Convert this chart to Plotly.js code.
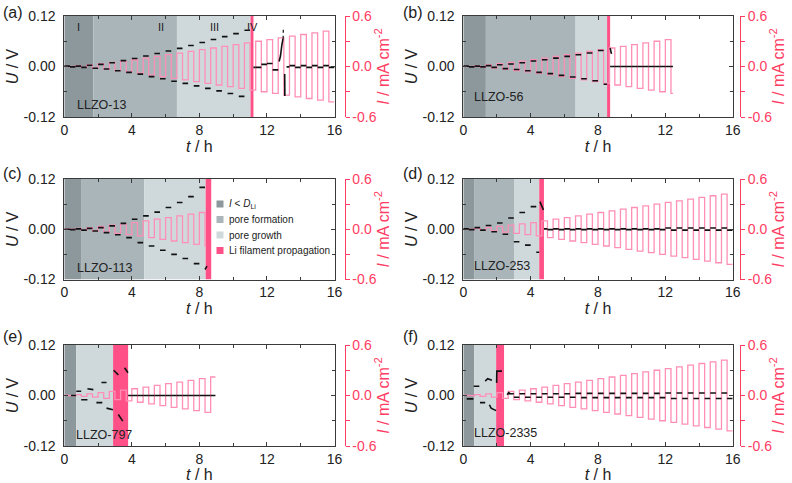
<!DOCTYPE html>
<html><head><meta charset="utf-8">
<script src="https://cdn.plot.ly/plotly-3.0.1.min.js"></script>
<style>html,body{margin:0;padding:0;background:#fff}#chart{width:792px;height:483px}</style>
</head><body><div id="chart"></div>
<script>
// ---------------- data ----------------
const sampleNames = ['LLZO-13','LLZO-56','LLZO-113','LLZO-253','LLZO-797','LLZO-2335'];
const panelLetters = ['(a)','(b)','(c)','(d)','(e)','(f)'];
const sampleLabelT = [0.63, 0.5, 0.63, 0.5, 0.55, 0.5];
const sampleLabelU = [-0.092, -0.072, -0.092, -0.088, -0.093, -0.089];
const halfCycleHours = 1/3;
// current density amplitude of each cycle (mA cm-2)
const currentAmp = [0.003,0.01,0.02,0.035,0.05,0.065,0.08,0.1,0.12,0.14,0.16,0.18,
                    0.2,0.22,0.24,0.26,0.28,0.3,0.32,0.34,0.36,0.38,0.4,0.42];
const currentEnd = [16, 12.45, 8.4, 16, 8.95, 16];
// phase boundaries (h)
const phaseIEnd   = [1.72, 1.34, 1.03, 0.64, 0.71, 0.64];
const phaseIIEnd  = [6.67, 6.67, 4.73, 3.01, 0.71, 0.64];
const phaseIIIEnd = [11.03, 8.54, 8.37, 4.51, 2.89, 1.95];
const filamentEnd = [11.2, 8.72, 8.7, 4.79, 3.78, 2.42];
// voltage of each half cycle (V)
const uA = [0.001,-0.001,0.001,-0.002,0.003,-0.004,0.005,-0.006,0.009,-0.010,
            0.014,-0.014,0.019,-0.018,0.025,-0.024,0.031,-0.029,0.037,-0.035,
            0.043,-0.040,0.050,-0.046,0.057,-0.052,0.064,-0.058,0.071,-0.064,
            0.078,-0.071,0.086,null,-0.002,0.005,0.007,-0.008,null,null,
            0.002,-0.002,0.002,-0.002,0.002,-0.002,0.002,-0.002];
const uB = [0.001,-0.001,0.001,-0.001,0.002,-0.002,0.004,-0.005,0.006,-0.007,
            0.009,-0.010,0.013,-0.014,0.016,-0.017,0.020,-0.021,0.024,-0.025,
            0.028,-0.029,0.032,-0.034,0.038,-0.042,0,0,0,0,
            0,0,0,0,0,0,0,0];
const uC = [0.000,-0.001,0.001,-0.002,0.002,-0.004,0.004,-0.008,0.008,-0.013,
            0.014,-0.020,0.024,-0.032,0.032,-0.040,0.041,-0.050,0.052,-0.060,
            0.064,-0.070,0.078,-0.082,0.100,-0.095];
const uD = [0.001,-0.001,0.004,-0.002,0.009,-0.006,0.015,-0.012,0.027,-0.030,
            0.040,-0.038,0.054,-0.055,0.001,-0.001,0.001,-0.001,0.001,-0.001,
            0.001,-0.001,0.001,-0.001,0.001,-0.001,0.001,-0.001,0.001,-0.001,
            0.001,-0.001,0.001,-0.001,0.001,-0.001,0.003,-0.002,0.003,-0.002,
            0.003,-0.002,0.003,-0.002,0.003,-0.002,0.003,-0.002];
const uE = [null,null,null,null,null,null,null,null,null,null,null,
            0,0,0,0,0,0,0,0,0,0,0,0,0,0,0,0];
const uF = [null,null,null,null,null,null,null,null,
            0.004,-0.004,0.004,-0.004,0.004,-0.004,0.004,-0.004,0.004,-0.004,0.004,-0.004,
            0.005,-0.005,0.005,-0.005,0.005,-0.005,0.005,-0.005,0.005,-0.005,
            0.005,-0.005,0.005,-0.005,0.005,-0.005,
            0.006,-0.007,0.006,-0.007,0.006,-0.007,0.006,-0.007,0.006,-0.007,0.006,-0.007];
// irregular voltage features (t in h, U in V)
const exAt = [11.2,11.33,null,12.72,12.8,12.88,12.95,null,13.05,13.06,null,13.16,13.33];
const exAu = [-0.002,-0.002,null,0.012,0.025,0.05,0.066,null,-0.018,-0.07,null,-0.001,-0.001];
const dotAt = [12.96,12.97];
const dotAu = [0.066,0.092];
const exBt = [8.72,8.8];
const exBu = [0.044,0.03];
const exCt = [8.33,8.45];
const exCu = [-0.096,-0.088];
const exDt = [4.55,4.62,4.7,4.76];
const exDu = [0.066,0.06,0.052,0.046];
const exEt = [0.4,0.7,null,0.71,1.0,null,1.0,1.37,null,1.37,1.72,null,1.9,2.25,null,2.2,2.5,null,2.5,2.88,null,
              2.92,3.05,3.2,null,3.2,3.32,3.46,null,3.57,3.67,3.77];
const exEu = [0,0,null,0.010,0.010,null,-0.010,-0.010,null,0.016,0.014,null,-0.017,-0.017,null,0.031,0.031,null,-0.030,-0.034,null,
              0.060,0.055,0.049,null,-0.045,-0.054,-0.061,null,0.066,0.061,0.054];
const exFt = [0.2,0.6,null,0.62,0.95,null,0.99,1.3,null,1.3,1.45,1.7,null,1.55,1.65,1.95,null,1.98,1.99,2.3,null,2.6,2.7,2.8];
const exFu = [-0.008,-0.008,null,0.022,0.022,null,-0.017,-0.017,null,0.034,0.040,0.036,null,-0.022,-0.030,-0.036,null,0.030,0.058,0.058,null,0.002,0.007,0.004];
const tTickVals = [0,4,8,12,16], tTickText = ['0','4','8','12','16'];
const uTickVals = [-0.12,0,0.12], uTickText = ['-0.12','0.00','0.12'];
const iTickVals = [-0.6,0,0.6], iTickText = ['-0.6','0.0','0.6'];
const phaseNames = ['I','II','III','IV'];
const phaseNameT = [0.87,5.7,8.9,11.15];
const legendTexts = ['<i>I</i> &lt; <i>D</i><sub>Li</sub>','pore formation','pore growth','Li filament propagation'];

const uAll = [uA,uB,uC,uD,uE,uF];
const exT = [exAt,exBt,exCt,exDt,exEt,exFt];
const exU = [exAu,exBu,exCu,exDu,exEu,exFu];

// ---------------- style ----------------
const FONT = 'Liberation Sans, Arial, sans-serif';
const RED = '#ff3d63', PINK = '#ff8fb6', BAND = '#ff5187';
const C1 = '#8c989c', C2 = '#a9b5b9', C3 = '#cfd9db';
const AX = '#3a3a3a';
const W = 792, H = 483;
const xPix = [[64.3,334.5],[463.3,732.7]];
const rightPix = [344.5, 740];
const yPix = [[117,16],[279.5,179],[446,345]];
const U_MAX = 0.12, I_MAX = 0.6;

const traces = [], shapes = [], annotations = [];
const layout = {width:W, height:H, margin:{l:0,r:0,t:0,b:0}, showlegend:false,
  paper_bgcolor:'#fff', plot_bgcolor:'rgba(0,0,0,0)', font:{family:FONT, color:'#222'}};

for (let p=0;p<6;p++){
  const row = Math.floor(p/2), col = p%2;
  const xs = p===0?'':String(p+1);
  const yI = 2*p+1, yU = 2*p+2;
  const yIs = yI===1?'':String(yI);
  const xDom = [xPix[col][0]/W, xPix[col][1]/W];
  const yDom = [1-yPix[row][0]/H, 1-yPix[row][1]/H];

  layout['xaxis'+xs] = {domain:xDom, anchor:'y'+yIs, range:[0,16], tickmode:'array', tickvals:tTickVals, ticktext:tTickText,
    ticks:'inside', ticklen:4, tickcolor:AX, showline:true, linecolor:AX, linewidth:1, mirror:'ticks', showgrid:false, zeroline:false,
    minor:{tickmode:'linear', tick0:0, dtick:2, ticks:'inside', ticklen:3, tickcolor:AX},
    tickfont:{size:14, color:'#222'}, ticklabelstandoff:0,
    title:{text:'<i>t</i> / h', font:{size:16, color:'#222'}, standoff:3}};
  layout['yaxis'+yIs] = {domain:yDom, anchor:'free', position:rightPix[col]/W, side:'right', range:[-I_MAX,I_MAX],
    tickmode:'array', tickvals:iTickVals, ticktext:iTickText, ticks:'outside', ticklen:4, tickcolor:RED,
    showline:true, linecolor:RED, linewidth:1, showgrid:false, zeroline:false,
    minor:{tickmode:'linear', tick0:0, dtick:0.3, ticks:'outside', ticklen:4, tickcolor:RED},
    tickfont:{size:14, color:RED},
    title:{text:'<i>I</i> / mA cm<sup>-2</sup>', font:{size:16, color:RED}, standoff:0}};
  layout['yaxis'+yU] = {domain:yDom, anchor:'x'+xs, overlaying:'y'+yIs, side:'left', range:[-U_MAX,U_MAX],
    tickmode:'array', tickvals:uTickVals, ticktext:uTickText, ticks:'inside', ticklen:4, tickcolor:AX,
    showline:true, linecolor:AX, linewidth:1, mirror:'ticks', showgrid:false, zeroline:false,
    minor:{tickmode:'linear', tick0:0, dtick:0.06, ticks:'inside', ticklen:3, tickcolor:AX},
    tickfont:{size:14, color:'#222'}, ticklabelstandoff:5,
    title:{text:'<i>U</i> / V', font:{size:16, color:'#222'}, standoff:0}};

  // phase shading
  const edges = [[0,phaseIEnd[p],C1],[phaseIEnd[p],phaseIIEnd[p],C2],[phaseIIEnd[p],phaseIIIEnd[p],C3],[phaseIIIEnd[p],filamentEnd[p],BAND]];
  edges.forEach(([a,b,c])=>{ if(b>a) shapes.push({type:'rect', xref:'x'+xs, yref:'y'+yU, x0:a, x1:b, y0:-U_MAX, y1:U_MAX,
      fillcolor:c, line:{width:0}, layer:'below'}); });

  // current square wave
  const ct=[], cv=[];
  for (let k=0; k*halfCycleHours < currentEnd[p]-1e-9; k++){
    const a = currentAmp[Math.floor(k/2)]*(k%2===0?1:-1);
    ct.push(k*halfCycleHours, Math.min((k+1)*halfCycleHours, currentEnd[p]));
    cv.push(a,a);
  }
  traces.push({x:ct, y:cv, xaxis:'x'+xs, yaxis:'y'+yIs, mode:'lines', line:{color:PINK, width:1.3}, hoverinfo:'skip'});

  // voltage dashes
  const vt=[], vu=[];
  const ivs = [[0,phaseIIIEnd[p]],[filamentEnd[p],currentEnd[p]]];
  uAll[p].forEach((val,k)=>{
    if (val===null) return;
    const a=k*halfCycleHours, b=(k+1)*halfCycleHours;
    ivs.forEach(([lo,hi])=>{ const s=Math.max(a,lo), e=Math.min(b,hi); if(e>s+1e-9){ vt.push(s,e,null); vu.push(val,val,null);} });
  });
  exT[p].forEach((t,i)=>{ vt.push(t); vu.push(exU[p][i]); });
  traces.push({x:vt, y:vu, xaxis:'x'+xs, yaxis:'y'+yU, mode:'lines', connectgaps:false, line:{color:'#111', width:1.6}, hoverinfo:'skip'});
  if (p===0) traces.push({x:dotAt, y:dotAu, xaxis:'x', yaxis:'y2', mode:'lines', line:{color:'#111', width:1.2, dash:'dot'}, hoverinfo:'skip'});

  annotations.push({xref:'x'+xs, yref:'y'+yU, x:sampleLabelT[p], y:sampleLabelU[p], text:sampleNames[p], showarrow:false,
    xanchor:'left', yanchor:'middle', font:{size:12.5, color:'#222'}});
  annotations.push({xref:'paper', yref:'paper', x:(col===0?1:401)/W, y:1-[13,173,336][row]/H, text:panelLetters[p], showarrow:false,
    xanchor:'left', yanchor:'middle', font:{size:16, color:'#222'}});
}
phaseNames.forEach((n,i)=>annotations.push({xref:'x', yref:'y2', x:phaseNameT[i], y:0.094, text:n, showarrow:false,
  xanchor:'center', yanchor:'middle', font:{size:11, color:'#222'}}));

// legend in panel (c)
const legendColors = [C1,C2,C3,BAND];
const legendY = [204,219.5,235,250.5];
legendTexts.forEach((t,i)=>{
  shapes.push({type:'rect', xref:'paper', yref:'paper', x0:216.5/W, x1:223.5/W, y0:1-(legendY[i]+3.5)/H, y1:1-(legendY[i]-3.5)/H,
    fillcolor:legendColors[i], line:{width:0}});
  annotations.push({xref:'paper', yref:'paper', x:227/W, y:1-legendY[i]/H, text:t, showarrow:false, xanchor:'left', yanchor:'middle',
    font:{size:10, color:'#222'}});
});
layout.shapes = shapes; layout.annotations = annotations;
Plotly.newPlot('chart', traces, layout, {staticPlot:true, displayModeBar:false});
</script></body></html>
